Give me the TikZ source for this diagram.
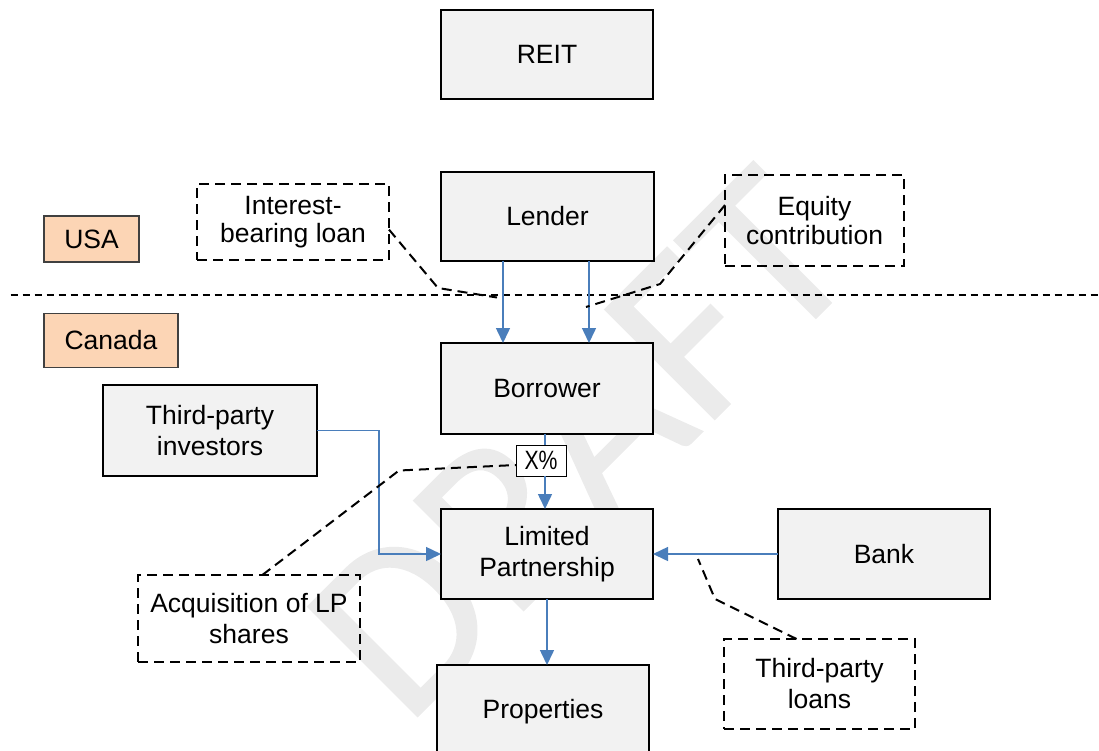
\documentclass[tikz,border=0pt]{standalone}
\usepackage{fontspec}
\setmainfont{Liberation Sans}
\newfontfamily\wmfont[FakeBold=0.6]{Carlito}
\usetikzlibrary{arrows.meta,calc}
\definecolor{boxfill}{HTML}{F2F2F2}
\definecolor{flow}{HTML}{4A7EBB}
\definecolor{region}{HTML}{FCD5B5}
\definecolor{wmgray}{HTML}{EBEBEB}

\begin{document}
\begin{tikzpicture}[x=1pt,y=-1pt,
  every node/.style={font=\fontsize{26.5}{31}\selectfont, align=center, inner sep=0pt, outer sep=0pt},
  entity/.style={draw=black, line width=2pt, fill=boxfill},
  note/.style={draw=black, line width=2pt, dash pattern=on 10pt off 6pt},
  regionbox/.style={draw=black!75, line width=1.3pt, fill=region},
  flowline/.style={draw=flow, line width=1.5pt},
  flowarrow/.style={flowline, -{Triangle[length=15pt,width=14pt]}},
  callout/.style={draw=black, line width=2pt, dash pattern=on 10pt off 6pt},
  border/.style={draw=black, line width=1.6pt, dash pattern=on 7pt off 5pt},
]
\useasboundingbox (0,0) rectangle (1099,750);

% watermark
\node[anchor=base west, rotate=45, text=wmgray,
      font=\wmfont\fontsize{242}{242}\selectfont] (draft) at (406,728) {DRAFT};

% country border
\draw[border] (10.7,295) -- (1099,295);

% jurisdiction labels
\node[regionbox, minimum width=95pt, minimum height=46pt] (usa) at (91.5,239) {USA};
\node[regionbox, minimum width=134pt, minimum height=54pt] (canada) at (111,340.5) {Canada};

% entities
\node[entity, minimum width=212pt, minimum height=89pt] (reit) at (547,54.5) {REIT};
\node[entity, minimum width=213pt, minimum height=89pt] (lender) at (547.5,216.5) {Lender};
\node[entity, minimum width=212pt, minimum height=91pt] (borrower) at (547,388.5) {Borrower};
\node[entity, minimum width=212pt, minimum height=90pt] (lp) at (547,554) {Limited\\Partnership};
\node[entity, minimum width=212pt, minimum height=94pt] (props) at (543,712) {Properties};
\node[entity, minimum width=212pt, minimum height=90pt] (bank) at (884,554) {Bank};
\node[entity, minimum width=214pt, minimum height=91pt] (tpi) at (210,430.5) {Third-party\\investors};

% explanatory notes
\node[note, minimum width=192pt, minimum height=76pt, font=\fontsize{26.5}{28}\selectfont] (ibl) at (293,222) {Interest-\\bearing loan};
\node[note, minimum width=179pt, minimum height=91pt, font=\fontsize{26.5}{29}\selectfont] (eqc) at (814.5,220.5) {Equity\\contribution};
\node[note, minimum width=191pt, minimum height=90pt] (tpl) at (819.5,684) {Third-party\\loans};
\node[note, minimum width=222pt, minimum height=87pt] (acq) at (249,618.5) {Acquisition of LP\\shares};

% ownership share
\node[draw=black, line width=1pt, fill=white, minimum width=50pt, minimum height=31pt] (xpct) at (541,460.5)
  {\raisebox{-4pt}{\scalebox{0.8}[1]{X\%}}};

% flows
\draw[flowarrow] ([xshift=-44.5pt]lender.south) -- ([xshift=-44pt]borrower.north);
\draw[flowarrow] ([xshift=41.5pt]lender.south) -- ([xshift=42pt]borrower.north);
\draw[flowline] ([xshift=-2pt]borrower.south) -- ([xshift=-2pt]borrower.south |- xpct.north);
\draw[flowarrow] ([xshift=-2pt]borrower.south |- xpct.south) -- ([xshift=-2pt]borrower.south |- lp.north);
\draw[flowarrow] (tpi.east) -- ++(62,0) |- (lp.west);
\draw[flowarrow] (bank.west) -- (lp.east);
\draw[flowarrow] (lp.south) -- (lp.south |- props.north);

% callout leaders
\coordinate (iblbend) at (438,288);
\coordinate (iblend) at (497,297.5);
\draw[callout] ($(ibl.north east)!0.6!(ibl.south east)$) -- (iblbend) -- (iblend);
\coordinate (eqcbend) at (660,284);
\coordinate (eqcend) at (586,307);
\draw[callout] ($(eqc.north west)!0.33!(eqc.south west)$) -- (eqcbend) -- (eqcend);
\coordinate (acqbend) at (399,470.5);
\draw[callout] ($(acq.north west)!0.56!(acq.north east)$) -- (acqbend) -- ([yshift=-4.5pt]xpct.west);
\coordinate (tplbend) at (715,599);
\coordinate (tplend) at (698,559);
\draw[callout] ($(tpl.north west)!0.38!(tpl.north east)$) -- (tplbend) -- (tplend);
\end{tikzpicture}
\end{document}
